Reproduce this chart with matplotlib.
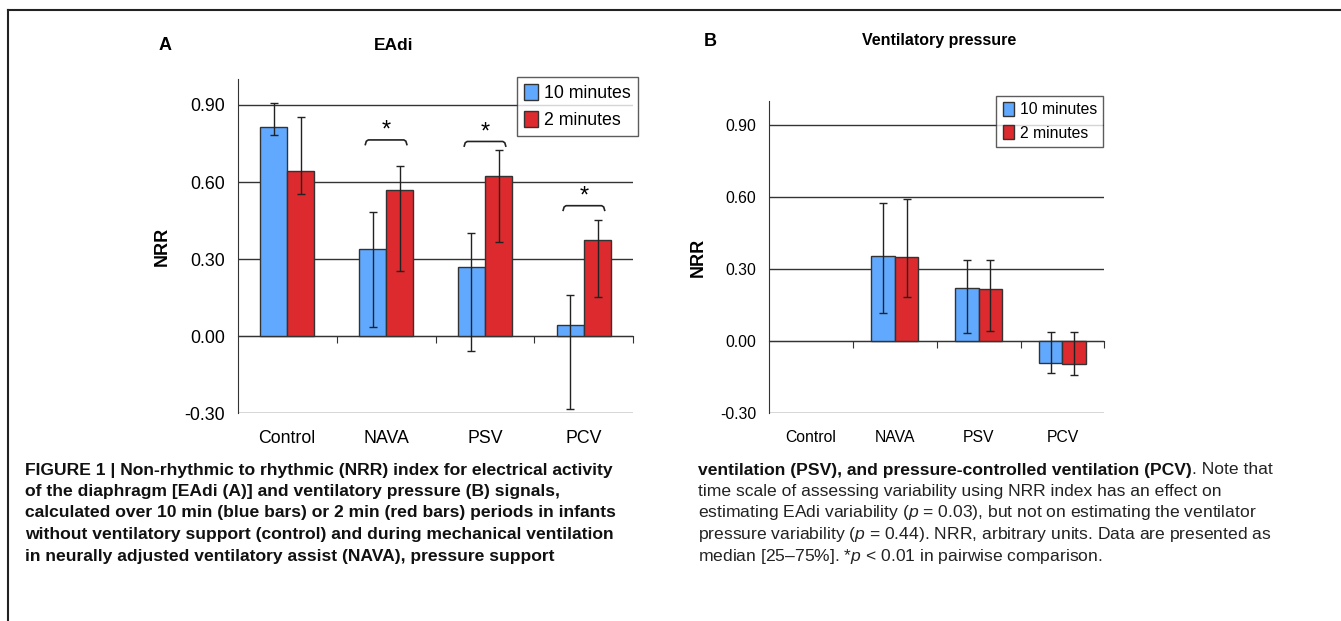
import matplotlib.pyplot as plt
from matplotlib.lines import Line2D
import numpy as np

plt.rcParams['font.family'] = ['Liberation Sans', 'DejaVu Sans']
plt.rcParams['mathtext.fontset'] = 'custom'
plt.rcParams['mathtext.it'] = 'Liberation Sans:italic'
plt.rcParams['mathtext.rm'] = 'Liberation Sans'

categories = ['Control', 'NAVA', 'PSV', 'PCV']
series_labels = ['10 minutes', '2 minutes']
yticks = [-0.30, 0.00, 0.30, 0.60, 0.90]

# panel A - EAdi, median with 25-75% range
eadi_10 = [0.813, 0.338, 0.271, 0.042]
eadi_10_lo = [0.782, 0.036, -0.057, -0.282]
eadi_10_hi = [0.906, 0.482, 0.401, 0.162]
eadi_2 = [0.642, 0.568, 0.625, 0.375]
eadi_2_lo = [0.552, 0.253, 0.365, 0.151]
eadi_2_hi = [0.855, 0.662, 0.726, 0.452]
# significance brackets (height in NRR units, None = no bracket)
eadi_sig = [None, 0.764, 0.758, 0.508]

# panel B - ventilatory pressure (no control data)
vp_10 = [np.nan, 0.356, 0.221, -0.089]
vp_10_lo = [np.nan, 0.118, 0.035, -0.131]
vp_10_hi = [np.nan, 0.576, 0.336, 0.039]
vp_2 = [np.nan, 0.351, 0.217, -0.096]
vp_2_lo = [np.nan, 0.185, 0.042, -0.139]
vp_2_hi = [np.nan, 0.590, 0.339, 0.039]

blue = '#61a9ff'
red = '#dc2a2e'
dark = '#333333'


def draw_panel(ax, v10, lo10, hi10, v2, lo2, hi2, width, fs, legend_anchor, fig):
    x = np.arange(len(categories))
    v10, lo10, hi10 = np.array(v10), np.array(lo10), np.array(hi10)
    v2, lo2, hi2 = np.array(v2), np.array(lo2), np.array(hi2)
    ax.bar(x - width / 2, v10, width, color=blue, edgecolor=dark, linewidth=1,
           label=series_labels[0], zorder=2)
    ax.bar(x + width / 2, v2, width, color=red, edgecolor=dark, linewidth=1,
           label=series_labels[1], zorder=2)
    ax.errorbar(x - width / 2, v10, yerr=[v10 - lo10, hi10 - v10], fmt='none',
                ecolor='#222222', elinewidth=1, capsize=3, capthick=1, zorder=3)
    ax.errorbar(x + width / 2, v2, yerr=[v2 - lo2, hi2 - v2], fmt='none',
                ecolor='#222222', elinewidth=1, capsize=3, capthick=1, zorder=3)

    ax.set_xlim(-0.5, len(categories) - 0.5)
    ax.set_ylim(-0.3, 1.0)
    ax.set_yticks(yticks)
    ax.set_yticklabels(['%.2f' % t for t in yticks], fontsize=fs)
    ax.tick_params(axis='y', length=0, pad=9)
    ax.set_xticks(x)
    ax.set_xticklabels(categories, fontsize=fs)
    ax.tick_params(axis='x', length=0, pad=12)
    ax.yaxis.grid(True, color=dark, linewidth=1)
    ax.set_axisbelow(True)
    for s in ['top', 'right', 'bottom']:
        ax.spines[s].set_visible(False)
    ax.spines['left'].set_color(dark)

    # zero line with category separators
    zero = ax.secondary_xaxis(0, transform=ax.transData)
    zero.set_xticks(np.arange(len(categories)) + 0.5)
    zero.set_xticklabels([])
    zero.tick_params(length=5, color=dark, direction='out')
    zero.spines['bottom'].set_color(dark)

    ax.set_ylabel('NRR', fontsize=13, fontweight='bold', labelpad=10)
    leg = ax.legend(loc='upper right', bbox_to_anchor=legend_anchor,
                    bbox_transform=fig.transFigure, fontsize=fs, frameon=True,
                    fancybox=False, edgecolor=dark, handlelength=0.75,
                    handleheight=1.0, handletextpad=0.35, borderpad=0.4,
                    labelspacing=0.5, borderaxespad=0)
    leg.get_frame().set_linewidth(1)
    for h in leg.legend_handles:
        h.set_edgecolor(dark)


fig = plt.figure(figsize=(13.41, 6.21), dpi=100)

axA = fig.add_axes([0.1773, 0.3345, 0.2950, 0.5378])
draw_panel(axA, eadi_10, eadi_10_lo, eadi_10_hi, eadi_2, eadi_2_lo, eadi_2_hi,
           0.275, 12.8, (0.4755, 0.8765), fig)
for i, h in enumerate(eadi_sig):
    if h is None:
        continue
    bx = [i - 0.21, i - 0.2, i - 0.18, i + 0.18, i + 0.2, i + 0.21]
    by = [h - 0.018, h - 0.005, h, h, h - 0.005, h - 0.018]
    axA.plot(bx, by, color='#222222', linewidth=1.2, zorder=3)
    axA.text(i, h + 0.035, '*', ha='center', va='center', fontsize=17)

axB = fig.add_axes([0.5735, 0.3345, 0.2500, 0.5029])
draw_panel(axB, vp_10, vp_10_lo, vp_10_hi, vp_2, vp_2_lo, vp_2_hi,
           0.28, 11.3, (0.8228, 0.8459), fig)

fig.text(165 / 1341, 1 - 45 / 621, 'A', fontsize=13, fontweight='bold',
         ha='center', va='center')
fig.text(394 / 1341, 1 - 45 / 621, 'EAdi', fontsize=12.5, fontweight='bold',
         ha='center', va='center')
fig.text(710 / 1341, 1 - 42 / 621, 'B', fontsize=13, fontweight='bold',
         ha='center', va='center')
fig.text(939 / 1341, 1 - 40 / 621, 'Ventilatory pressure', fontsize=11.5,
         fontweight='bold', ha='center', va='center')

# frame lines (top and left)
fig.add_artist(Line2D([8 / 1341, 1], [1 - 10 / 621] * 2, color='#222222', linewidth=1.5))
fig.add_artist(Line2D([8 / 1341] * 2, [0, 1 - 10 / 621], color='#222222', linewidth=1.5))

# caption
left_lines = [
    'FIGURE 1 | Non-rhythmic to rhythmic (NRR) index for electrical activity',
    'of the diaphragm [EAdi (A)] and ventilatory pressure (B) signals,',
    'calculated over 10 min (blue bars) or 2 min (red bars) periods in infants',
    'without ventilatory support (control) and during mechanical ventilation',
    'in neurally adjusted ventilatory assist (NAVA), pressure support',
]
right_lines = [
    'time scale of assessing variability using NRR index has an effect on',
    'estimating EAdi variability ($p$ = 0.03), but not on estimating the ventilator',
    'pressure variability ($p$ = 0.44). NRR, arbitrary units. Data are presented as',
    'median [25\u201375%]. *$p$ < 0.01 in pairwise comparison.',
]
line_y = [470, 491.5, 513, 534.5, 556]
cap_fs = 12.6
for yy, t in zip(line_y, left_lines):
    fig.text(25 / 1341, 1 - yy / 621, t, fontsize=cap_fs, fontweight='bold',
             va='center', color='#111111')

b = fig.text(698 / 1341, 1 - line_y[0] / 621,
             'ventilation (PSV), and pressure-controlled ventilation (PCV)',
             fontsize=cap_fs, fontweight='bold', va='center', color='#111111')
fig.canvas.draw()
bb = b.get_window_extent(fig.canvas.get_renderer())
fig.text(bb.x1 / fig.bbox.width, 1 - line_y[0] / 621, '. Note that',
         fontsize=cap_fs, va='center', color='#222222')
for yy, t in zip(line_y[1:], right_lines):
    fig.text(698 / 1341, 1 - yy / 621, t, fontsize=cap_fs, va='center',
             color='#222222')

fig.savefig('out.png', dpi=100)
